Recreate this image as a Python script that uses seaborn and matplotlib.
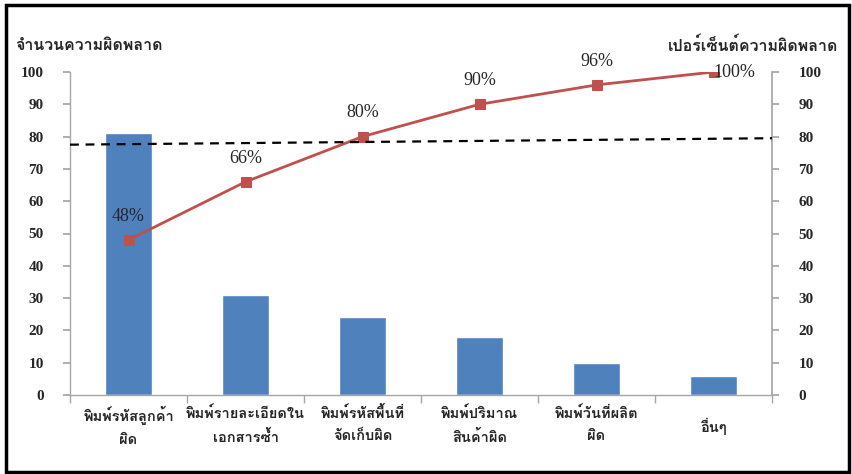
import matplotlib
matplotlib.use("Agg")
import matplotlib.pyplot as plt
from matplotlib import font_manager
from matplotlib.ft2font import FT2Font
from matplotlib.patches import Rectangle
import matplotlib.transforms as mtransforms
import seaborn as sns
import pandas as pd
import numpy as np

# ---------------- data ----------------
categories = [
    "พิมพ์รหัสลูกค้า\nผิด",
    "พิมพ์รายละเอียดใน\nเอกสารซ้ำ",
    "พิมพ์รหัสพื้นที่\nจัดเก็บผิด",
    "พิมพ์ปริมาณ\nสินค้าผิด",
    "พิมพ์วันที่ผลิต\nผิด",
    "อื่นๆ",
]
error_counts = [81, 31, 24, 18, 10, 6]
cumulative_pct = [48, 66, 80, 90, 96, 100]
pct_labels = ["48%", "66%", "80%", "90%", "96%", "100%"]
threshold_ends = [77.5, 79.5]
y_ticks = [0, 10, 20, 30, 40, 50, 60, 70, 80, 90, 100]
left_title = "จำนวนความผิดพลาด"
right_title = "เปอร์เซ็นต์ความผิดพลาด"

# ---------------- fonts ----------------
thai_fonts = set()
for f in font_manager.fontManager.ttflist:
    try:
        if 0x0E01 in FT2Font(f.fname).get_charmap():
            thai_fonts.add(f.name)
    except Exception:
        pass
thai = None
for cand in ["Loma", "Garuda", "Laksaman", "Krub", "Maitree"]:
    if cand in thai_fonts:
        thai = cand
        break
if thai is None and thai_fonts:
    thai = sorted(thai_fonts)[0]

sns.set_theme(style="white")
serif = "Liberation Serif"
plt.rcParams["font.family"] = [serif, thai or "DejaVu Sans", "DejaVu Sans"]
thai_fam = [thai or "DejaVu Sans", serif, "DejaVu Sans"]

bar_color = "#4F81BD"
line_color = "#C0504D"
axis_gray = "#A6A6A6"

df = pd.DataFrame({"cat": categories, "count": error_counts,
                   "pos": np.arange(len(categories)), "pct": cumulative_pct})

fig = plt.figure(figsize=(8.52, 4.74), dpi=100)
ax = fig.add_axes([70 / 852, 1 - 395 / 474, (772 - 70) / 852, (395 - 72) / 474])

sns.barplot(data=df, x="cat", y="count", color=bar_color, saturation=1,
            width=0.40, ax=ax)
ax.set_xlim(-0.5, len(categories) - 0.5)
ax.set_ylim(0, 100)
ax.set_yticks(y_ticks)
ax.set_yticklabels([str(t) for t in y_ticks], fontsize=11, fontweight="bold",
                   family=serif)
ax.set_xlabel("")
ax.set_ylabel("")
ax.set_xticks(np.arange(len(categories)))
ax.set_xticklabels(categories, fontsize=10.5, fontweight="bold", family=thai_fam,
                   linespacing=1.75)
ax.tick_params(axis="x", length=0, pad=8)
ax.tick_params(axis="y", length=5, color=axis_gray, direction="out", pad=14, left=True)
# single-line label sits midway between the two lines of the others
for lab in ax.get_xticklabels():
    if "\n" not in lab.get_text():
        lab.set_transform(lab.get_transform() +
                          mtransforms.ScaledTranslation(0, -12 / 100, fig.dpi_scale_trans))
# category boundary ticks
ax.set_xticks(np.arange(len(categories) + 1) - 0.5, minor=True)
ax.tick_params(axis="x", which="minor", length=6, color=axis_gray, direction="out", bottom=True)
for s in ["top", "right"]:
    ax.spines[s].set_visible(False)
for s in ["left", "bottom"]:
    ax.spines[s].set_color(axis_gray)
    ax.spines[s].set_linewidth(1.0)

ax2 = ax.twinx()
sns.lineplot(data=df, x="pos", y="pct", color=line_color, linewidth=2,
             marker="s", markersize=7, markeredgecolor=line_color, ax=ax2)
ax2.set_ylim(0, 100)
ax2.set_xlim(-0.5, len(categories) - 0.5)
ax2.set_yticks(y_ticks)
ax2.set_yticklabels([str(t) for t in y_ticks], fontsize=11, fontweight="bold",
                    family=serif)
ax2.set_ylabel("")
ax2.set_xlabel("")
ax2.tick_params(axis="y", length=5, color=axis_gray, direction="out", pad=14, right=True)
for s in ["top", "left", "bottom"]:
    ax2.spines[s].set_visible(False)
ax2.spines["right"].set_color(axis_gray)

# threshold dashed line
ax2.plot([-0.5, len(categories) - 0.5], threshold_ends, color="black",
         linestyle=(0, (4, 3)), linewidth=1.6, zorder=5)

# data labels
for i, (v, lab) in enumerate(zip(cumulative_pct, pct_labels)):
    if i == len(cumulative_pct) - 1:
        ax2.annotate(lab, (i, v), xytext=(0, 0), textcoords="offset points",
                     ha="left", va="center", fontsize=13, family=serif, zorder=6)
    else:
        ax2.annotate(lab, (i, v), xytext=(0, 17), textcoords="offset points",
                     ha="center", va="center", fontsize=13, family=serif, zorder=6)

# titles
fig.text(15 / 852, 1 - 45 / 474, left_title, ha="left", va="center",
         fontsize=11.5, fontweight="bold", family=thai_fam)
fig.text(838 / 852, 1 - 45 / 474, right_title, ha="right", va="center",
         fontsize=11.5, fontweight="bold", family=thai_fam)

# outer frame
fig.patches.append(Rectangle((6 / 852, 1 - 472 / 474), (849 - 6) / 852, (472 - 5) / 474,
                             transform=fig.transFigure, fill=False,
                             edgecolor="black", linewidth=2.5))

fig.savefig("out.png", dpi=100)
